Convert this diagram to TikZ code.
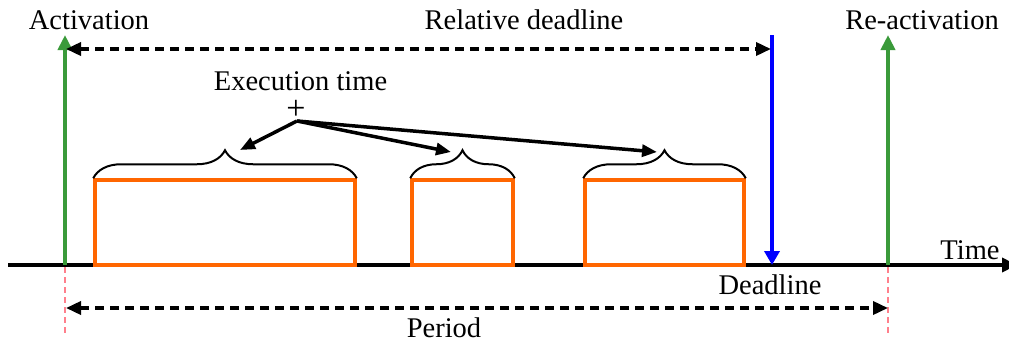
\documentclass[tikz,border=0pt]{standalone}
\usepackage{fontspec}
\setmainfont{Liberation Serif}
\usetikzlibrary{arrows.meta,decorations.pathreplacing}
\definecolor{actgreen}{RGB}{58,154,58}
\definecolor{taskorange}{RGB}{255,102,0}
\definecolor{dlblue}{RGB}{0,0,255}
\definecolor{guidepink}{RGB}{255,128,140}
\begin{document}
\begin{tikzpicture}[x=1pt,y=-1pt,
  lbl/.style={font=\fontsize{28.5}{30}\selectfont, inner sep=0pt, anchor=base},
  axisline/.style={line width=4.5pt, -{Triangle[length=15pt,width=14pt]}},
  actline/.style={actgreen, line width=4.5pt, -{Triangle[length=15pt,width=14pt]}},
  dlline/.style={dlblue, line width=4.5pt, -{Triangle[length=14pt,width=15pt]}},
  taskbox/.style={draw=taskorange, line width=3.5pt, inner sep=0pt},
  dimline/.style={line width=3.5pt, dash pattern=on 9pt off 6pt, {Triangle[length=15pt,width=13pt]}-{Triangle[length=15pt,width=13pt]}},
  guide/.style={guidepink, line width=2.5pt, dash pattern=on 6pt off 4pt},
  brc/.style={line width=2pt, decorate, decoration={brace, amplitude=28pt}},
  exarrow/.style={line width=3.5pt, -{Triangle[length=15pt,width=12pt]}}
]
\useasboundingbox (0,0) rectangle (1009,343);

% coordinates
\coordinate (ax0) at (8,265);
\coordinate (ax1) at (1017,265);
\coordinate (act0) at (65,265);
\coordinate (act1) at (65,35);
\coordinate (react0) at (888,265);
\coordinate (react1) at (888,35);
\coordinate (dl0) at (772,35);
\coordinate (dl1) at (772,265);
\coordinate (rd0) at (66,49);
\coordinate (rd1) at (771,49);
\coordinate (pg0) at (65,267);
\coordinate (pg1) at (65,335);
\coordinate (pr0) at (888,267);
\coordinate (pr1) at (888,335);
\coordinate (pe0) at (66,308);
\coordinate (pe1) at (888,308);
\coordinate (src) at (297,121);
\coordinate (e1) at (240,150);
\coordinate (e2) at (451,152);
\coordinate (e3) at (657,152);

% time axis
\draw[axisline] (ax0) -- (ax1);

% tasks
\node[taskbox, minimum width=260pt, minimum height=85pt] (t1) at (225,222.5) {};
\node[taskbox, minimum width=101pt, minimum height=85pt] (t2) at (462.5,222.5) {};
\node[taskbox, minimum width=159pt, minimum height=85pt] (t3) at (664.5,222.5) {};

% braces
\draw[brc] (t1.north west) -- (t1.north east);
\draw[brc] (t2.north west) -- (t2.north east);
\draw[brc] (t3.north west) -- (t3.north east);

% activation lines
\draw[actline] (act0) -- (act1);
\draw[actline] (react0) -- (react1);
\draw[dlline] (dl0) -- (dl1);

% guides
\draw[guide] (pg0) -- (pg1);
\draw[guide] (pr0) -- (pr1);

% dimension arrows
\draw[dimline] (rd0) -- (rd1);
\draw[dimline] (pe0) -- (pe1);

% execution time arrows
\draw[exarrow] (src) -- (e1);
\draw[exarrow] (src) -- (e2);
\draw[exarrow] (src) -- (e3);

% labels
\node[lbl] (lact) at (89,29) {Activation};
\node[lbl] (lrd) at (524,29) {Relative deadline};
\node[lbl] (lreact) at (922,29) {Re-activation};
\node[lbl] (lex) at (300.5,90) {Execution time};
\node[font=\fontsize{34}{34}\selectfont, inner sep=0pt, text height=15pt, text depth=0pt] (plus) at (296,112) {+};
\node[lbl] (ldl) at (770,294) {Deadline};
\node[lbl] (lper) at (444,337) {Period};
\node[lbl] (ltime) at (970,259) {Time};
\end{tikzpicture}
\end{document}
